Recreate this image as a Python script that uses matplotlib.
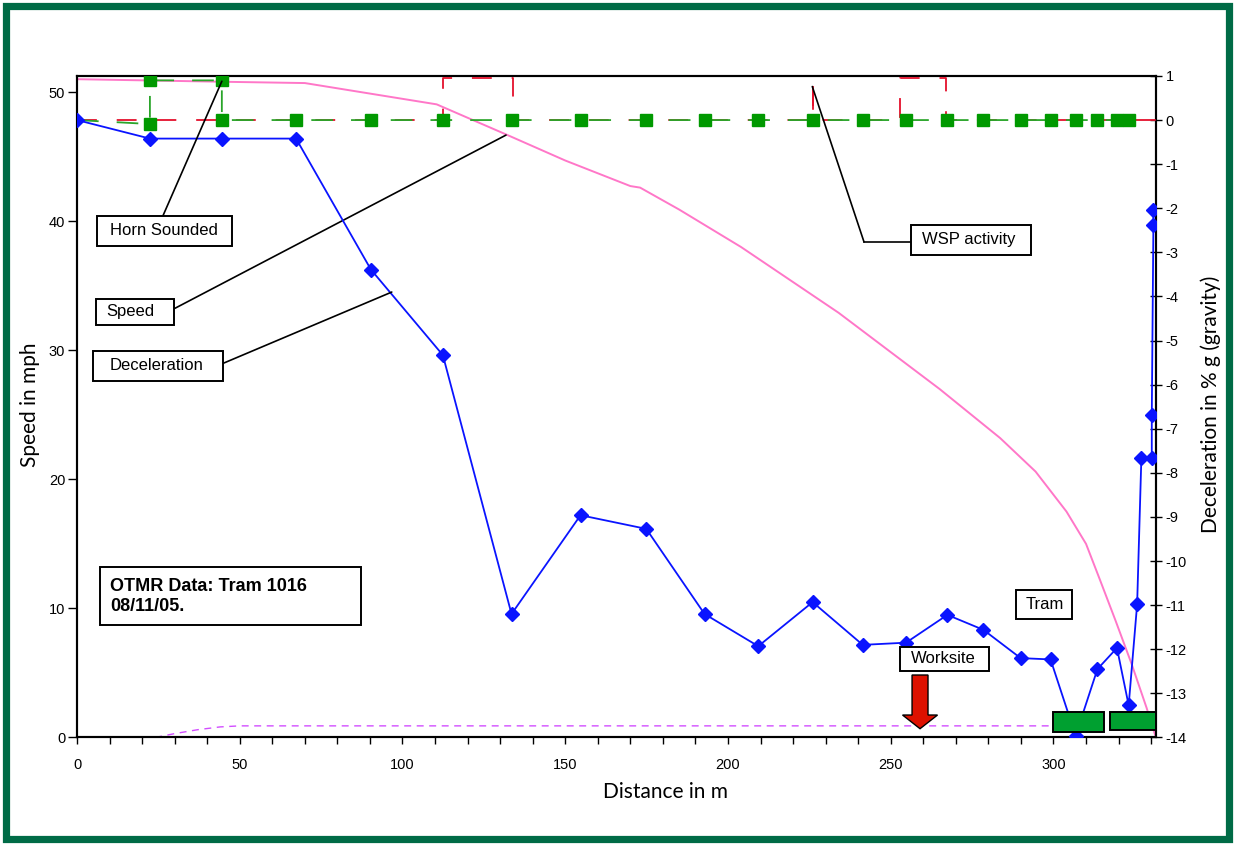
import matplotlib
matplotlib.use("Agg")
import matplotlib.pyplot as plt
from matplotlib.patches import Rectangle, FancyArrow
from matplotlib.ticker import MultipleLocator

plt.rcParams["axes.unicode_minus"] = False

# sample distances (m) shared by the horn and deceleration channels
dist = [0, 22.4, 44.5, 67.3, 90.3, 112.4, 133.5, 154.7, 174.9, 192.8, 209.3,
        226.0, 241.4, 254.7, 267.4, 278.5, 289.9, 299.1, 306.8, 313.5, 319.5, 323.1]

# deceleration in % g (right axis)
decel = [0, -0.42, -0.42, -0.42, -3.39, -5.33, -11.2, -8.96, -9.27, -11.2, -11.93,
         -10.93, -11.9, -11.85, -11.22, -11.56, -12.2, -12.23, -13.96, -12.45, -11.97, -13.27]
decel_tail_dist = [325.7, 327.0, 330.2, 330.2, 330.7, 330.7]
decel_tail = [-10.98, -7.66, -7.66, -6.69, -2.37, -2.04]

# horn channel (drawn on right axis scale)
horn_dist = [0, 22.4, 22.4, 44.5, 44.5] + dist[3:]
horn_val = [0, -0.09, 0.9, 0.9, 0] + [0] * (len(dist) - 3)

# wheel slip protection channel
wsp_dist = [0, 112.5, 112.5, 134, 134, 226, 226, 226, 253, 253, 267, 267, 331.5]
wsp_val = [0, 0, 0.95, 0.95, 0, 0, 0.95, 0, 0, 0.95, 0.95, 0, 0]

# speed in mph (left axis)
speed_dist = [0, 45, 70, 110.5, 132, 150, 170, 173, 185, 204, 234, 265, 283.6,
              294.5, 304, 310, 314.3, 319, 324, 328.6, 330.7, 331.5]
speed = [51.0, 50.8, 50.7, 49.05, 46.7, 44.7, 42.72, 42.6, 40.9, 38.0, 32.9,
         27.0, 23.2, 20.6, 17.5, 15.0, 12.2, 9.1, 5.7, 2.3, 0.6, 0.0]

# worksite marker line
site_dist = [24, 30, 37, 44, 50, 299.4]
site_val = [0, 0.3, 0.6, 0.82, 0.9, 0.9]

TICK_FONT = "Liberation Sans"
LABEL_FONT = "Lato"

fig = plt.figure(figsize=(12.34, 8.44), dpi=100)
ax = fig.add_axes([0.0624, 0.1262, 0.8744, 0.7838])
ax2 = ax.twinx()

ax.plot(speed_dist, speed, color="#ff77c8", lw=1.4, zorder=2)
ax.plot(site_dist, site_val, color="#d24dff", lw=1.0, dashes=(5, 4), zorder=2)

ax2.plot(wsp_dist, wsp_val, color="#e4102c", lw=1.3, dashes=(11, 11), zorder=3)
ax2.plot(horn_dist, horn_val, color="#2aa52a", lw=1.3, dashes=(12, 10),
         marker="s", markersize=8, markerfacecolor="#009900",
         markeredgecolor="#009900", markevery=list(range(1, len(horn_dist))), zorder=4)
ax2.plot(dist + decel_tail_dist, decel + decel_tail, color="#0a14ff", lw=1.3,
         marker="D", markersize=7.5, markerfacecolor="#0a14ff",
         markeredgecolor="#0a14ff", zorder=5)

ax.set_xlim(0, 331.5)
ax.set_ylim(0, 51.25)
ax2.set_ylim(-14, 1)

ax.xaxis.set_major_locator(MultipleLocator(50))
ax.xaxis.set_minor_locator(MultipleLocator(10))
ax.yaxis.set_major_locator(MultipleLocator(10))
ax2.yaxis.set_major_locator(MultipleLocator(1))

ax.tick_params(axis="x", which="both", direction="out", length=5, width=1, pad=10)
ax.tick_params(axis="y", direction="out", length=6.5, width=1, pad=2)
ax2.tick_params(axis="y", direction="inout", length=8, width=1, pad=3)
for lab in ax.get_xticklabels() + ax.get_yticklabels() + ax2.get_yticklabels():
    lab.set_fontfamily(TICK_FONT)
    lab.set_fontsize(10.5)

for a in (ax, ax2):
    for s in a.spines.values():
        s.set_linewidth(1.5)

ax.set_xlabel("Distance in m", fontfamily=LABEL_FONT, fontsize=15)
ax.set_ylabel("Speed in mph", fontfamily=LABEL_FONT, fontsize=15)
ax2.set_ylabel("Deceleration in % g (gravity)", fontfamily=LABEL_FONT, fontsize=15)
ax.xaxis.set_label_coords(0.545, -0.067)
ax.yaxis.set_label_coords(-0.034, 0.503)
ax2.yaxis.set_label_coords(1.041, 0.503)


def label_box(x0, y0, x1, y1, tx, ty, text, **kw):
    ax2.add_patch(Rectangle((x0, y0), x1 - x0, y1 - y0, transform=ax2.transAxes,
                            facecolor="white", edgecolor="black", lw=1.4,
                            clip_on=False, zorder=8))
    ax2.text(tx, ty, text, transform=ax2.transAxes, ha="left", va="center",
             fontfamily=TICK_FONT, zorder=9, **kw)


def leader(xy, start, axis=ax2):
    axis.annotate("", xy=xy, xycoords="data", xytext=start, textcoords=ax2.transAxes,
                  arrowprops=dict(arrowstyle="-", color="black", lw=1.2,
                                  shrinkA=0, shrinkB=0), zorder=7)


# call-out lines
leader((44.5, 0.88), (0.0797, 0.7888))
leader((131.8, 46.67), (0.0908, 0.6488), axis=ax)
leader((96.7, -3.9), (0.1356, 0.5657))
leader((225.9, 0.76), (0.7294, 0.749))
ax2.plot([0.7294, 0.773], [0.749, 0.749], color="black", lw=1.2,
         transform=ax2.transAxes, clip_on=False, zorder=7)

label_box(0.0183, 0.7435, 0.1434, 0.7888, 0.0306, 0.7661, "Horn Sounded", fontsize=12)
label_box(0.0173, 0.6236, 0.0899, 0.6624, 0.0275, 0.6432, "Speed", fontsize=12)
label_box(0.0151, 0.5394, 0.1356, 0.5847, 0.0306, 0.5621, "Deceleration", fontsize=12)
label_box(0.7730, 0.7294, 0.8842, 0.7748, 0.7828, 0.7521, "WSP activity", fontsize=12)
label_box(0.8703, 0.1796, 0.9222, 0.2230, 0.8795, 0.2012, "Tram", fontsize=12)
label_box(0.7627, 0.1010, 0.8452, 0.1373, 0.7727, 0.1191, "Worksite", fontsize=12)
label_box(0.0213, 0.1705, 0.2629, 0.2573, 0.0306, 0.2135,
          "OTMR Data: Tram 1016\n08/11/05.", fontsize=13, fontweight="bold",
          linespacing=1.25)

# tram blocks
ax2.add_patch(Rectangle((299.9, -13.87), 15.7, 0.45, facecolor="#00a030",
                        edgecolor="black", lw=1.4, zorder=6, clip_on=False))
ax2.add_patch(Rectangle((317.4, -13.82), 14.1, 0.40, facecolor="#00a030",
                        edgecolor="black", lw=1.4, zorder=6, clip_on=False))

# worksite arrow
ax.add_patch(FancyArrow(259, 4.84, 0, -4.16, width=4.9, head_width=10.75,
                        head_length=1.06, length_includes_head=True,
                        facecolor="#dd1100", edgecolor="black", lw=1.0, zorder=6))

# green frame round the figure
fig.patches.append(Rectangle((5.5 / 1234, 5.5 / 844), 1 - 11 / 1234, 1 - 11 / 844,
                             transform=fig.transFigure, fill=False,
                             edgecolor="#006b46", lw=5.2))

fig.savefig("out.png", dpi=100)
